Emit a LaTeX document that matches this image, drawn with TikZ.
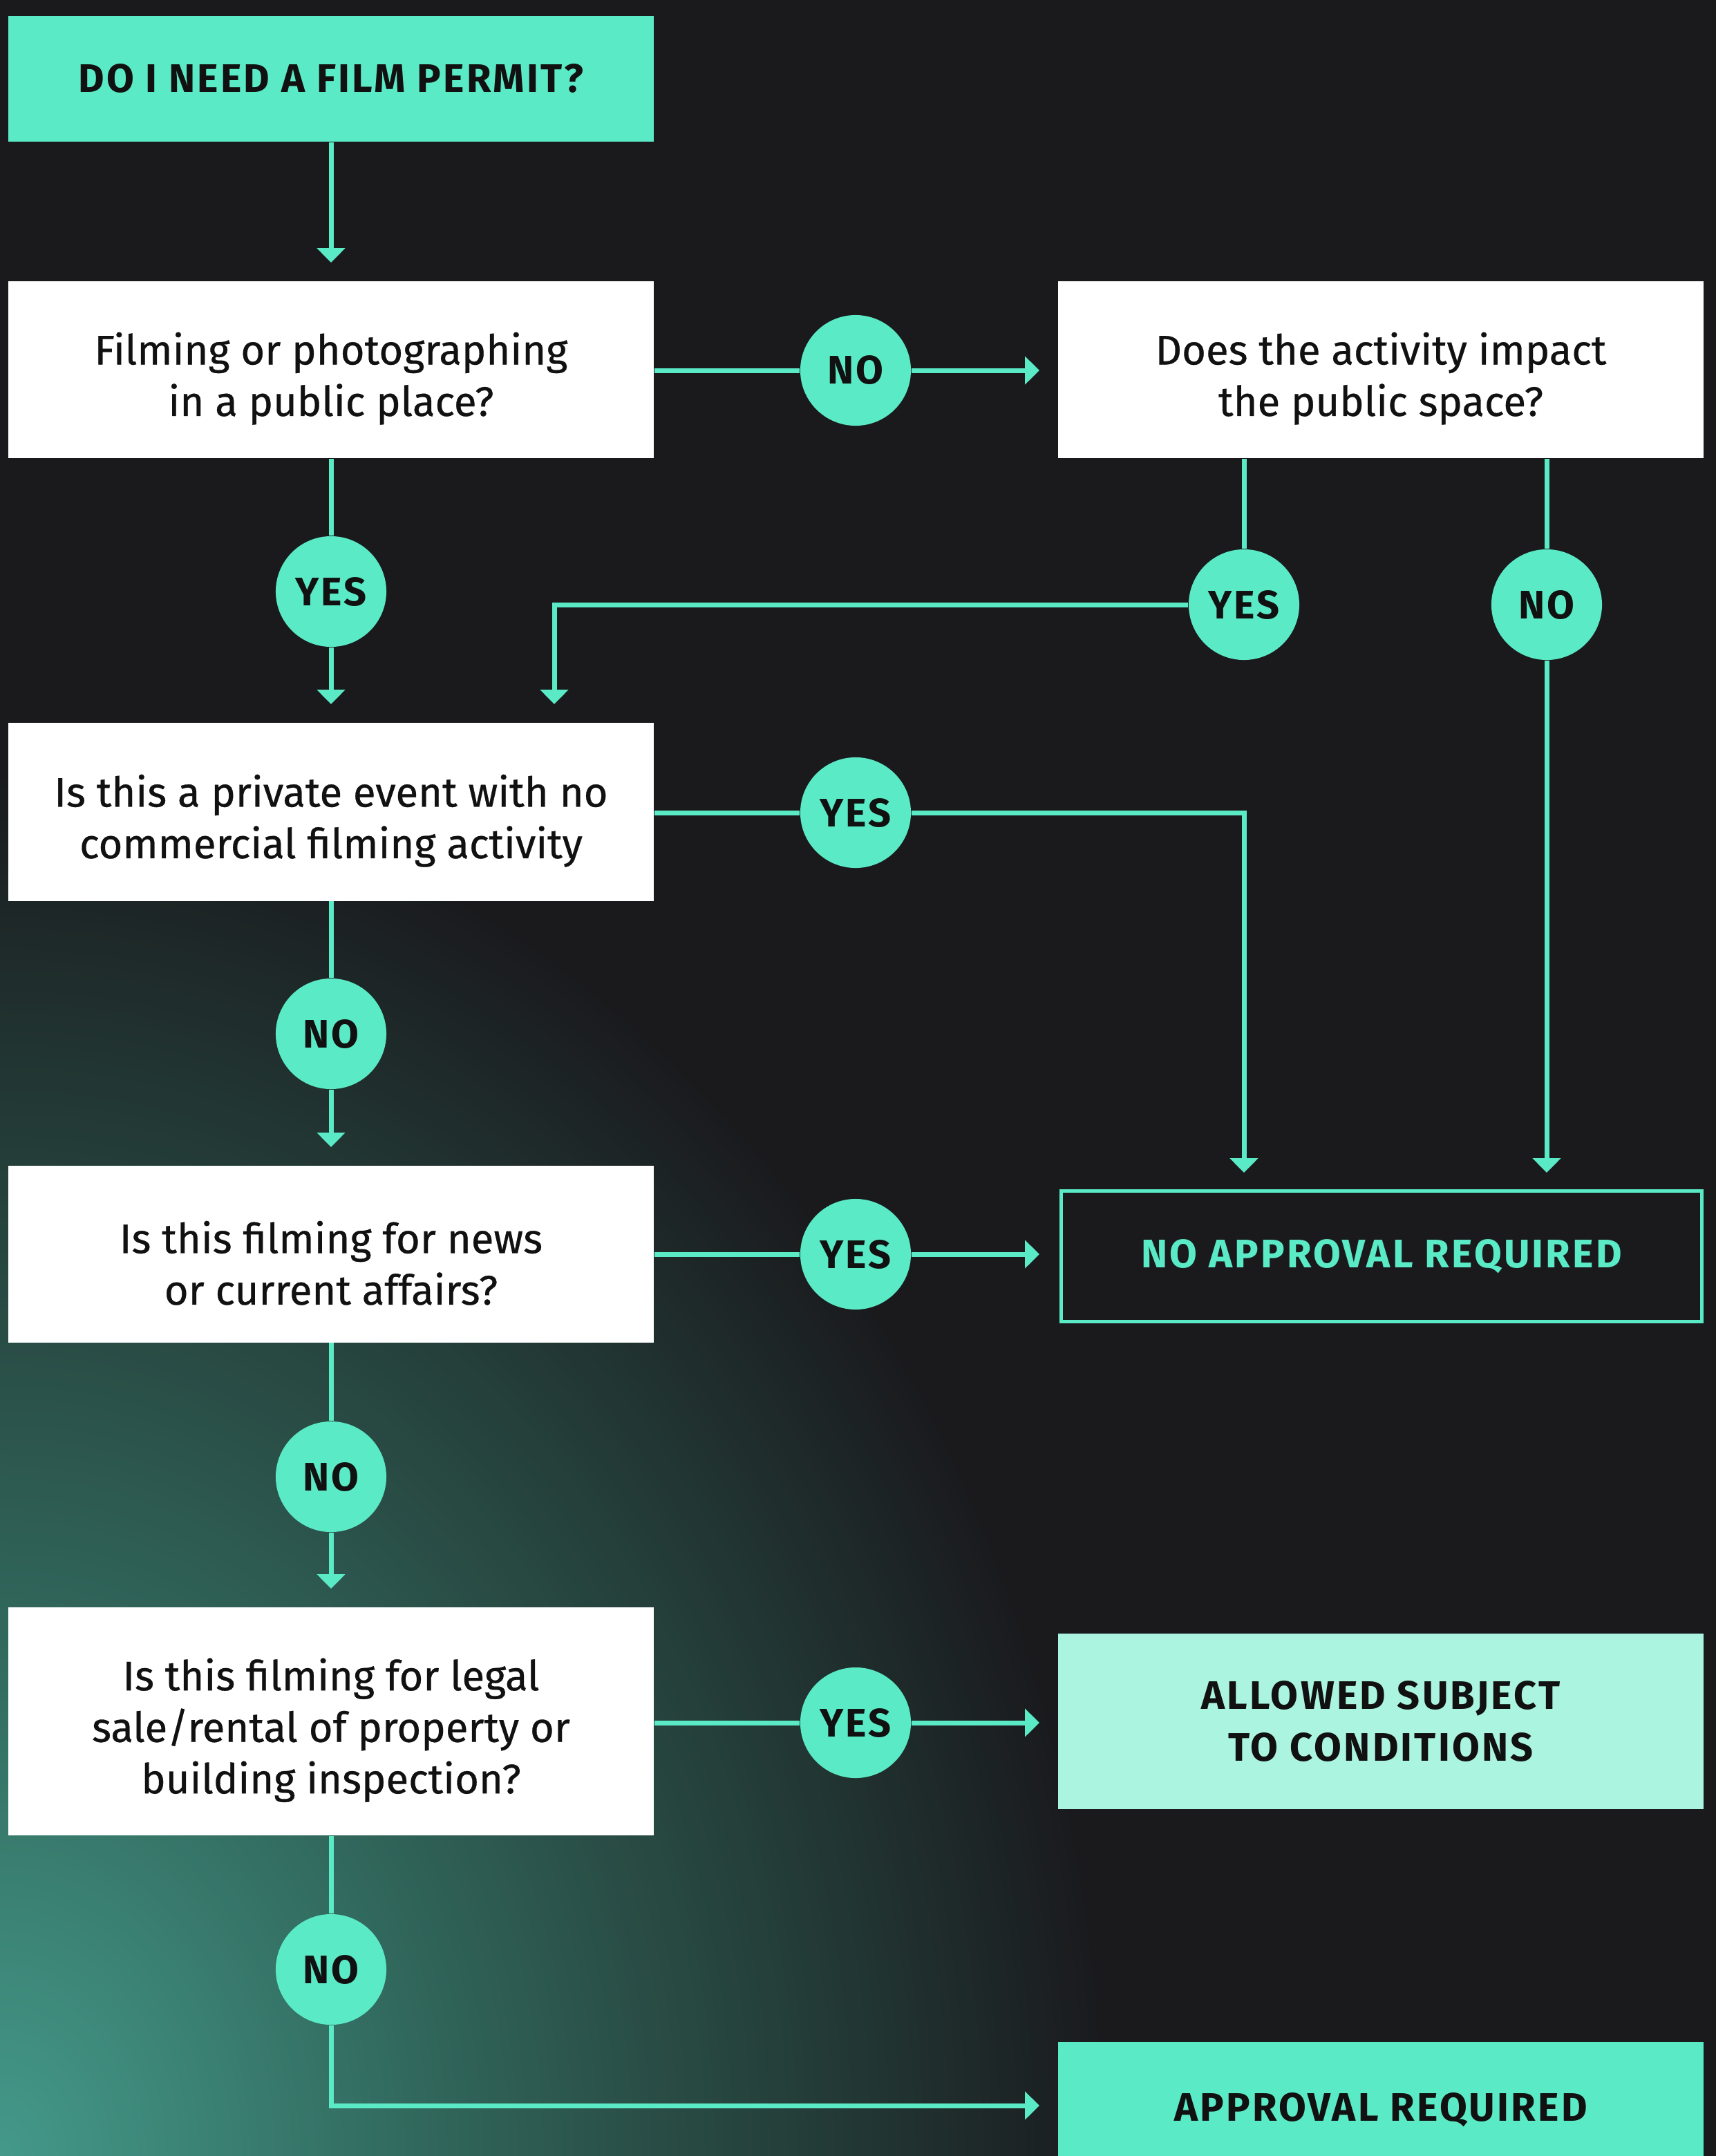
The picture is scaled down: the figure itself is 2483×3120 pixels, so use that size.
\documentclass[tikz,border=0pt]{standalone}
\usepackage{fontspec}
\setmainfont{Fira Sans}
\newfontfamily\labfamily{Fira Sans}[LetterSpace=5.5]
\newfontfamily\qmed{Fira Sans}[FakeBold=0.5]
\usetikzlibrary{arrows.meta}
\definecolor{bg}{HTML}{1A1A1D}
\definecolor{mint}{HTML}{5BEAC6}
\definecolor{lmint}{HTML}{ABF4E0}
\definecolor{ink}{HTML}{111111}
\definecolor{glowA}{HTML}{44998A}
\definecolor{glowB}{HTML}{3A8072}
\definecolor{glowC}{HTML}{30655A}
\definecolor{glowD}{HTML}{294C45}
\definecolor{glowE}{HTML}{213431}
\pgfdeclareradialshading{glow}{\pgfpoint{0bp}{0bp}}{color(0bp)=(glowA); color(5bp)=(glowB); color(10bp)=(glowC); color(15bp)=(glowD); color(20bp)=(glowE); color(25bp)=(bg); color(50bp)=(bg)}
\newcommand{\qfont}{\qmed\fontsize{17}{21.2}\selectfont}
\newcommand{\labfont}{\labfamily\fontsize{16.4}{21.2}\selectfont\bfseries}
\newcommand{\qstrut}{\rule{0pt}{0.72cm}}
\begin{document}
\begin{tikzpicture}[x=0.01cm,y=-0.01cm,
  qbox/.style={rectangle, fill=white, text=ink, minimum width=9.34cm, align=center, font=\qfont, inner sep=0pt},
  endbox/.style={rectangle, minimum width=9.34cm, align=center, font=\labfont, inner sep=0pt},
  lab/.style={circle, fill=mint, minimum size=1.6cm, inner sep=0pt, font=\labfont, text=ink},
  conn/.style={draw=mint, line width=0.07cm},
  arr/.style={conn, -{Triangle[width=0.4cm,length=0.21cm]}}]
\useasboundingbox (0,0) rectangle (2483,3120);
\fill[bg] (0,0) rectangle (2483,3120);
\begin{scope}
\clip (0,0) rectangle (2483,3120);
\shade[shading=glow] (-1600,1120) rectangle (1600,5120);
\end{scope}

% boxes
\node[endbox, fill=mint, text=ink, minimum height=1.82cm] (title) at (479,114) {DO I NEED A FILM PERMIT?};
\node[qbox, minimum height=2.56cm] (q1) at (479,535) {\qstrut Filming or photographing\\in a public place?};
\node[qbox, minimum height=2.56cm] (q2) at (1998,535) {\qstrut Does the activity impact\\the public space?};
\node[qbox, minimum height=2.57cm] (q3) at (479,1175) {\qstrut Is this a private event with no\\commercial filming activity};
\node[qbox, minimum height=2.55cm] (q4) at (479,1815) {\qstrut Is this filming for news\\or current affairs?};
\node[qbox, minimum height=3.30cm] (q5) at (479,2491) {\qstrut Is this filming for legal\\sale/rental of property or\\building inspection?};
\node[endbox, draw=mint, line width=0.05cm, text=mint, minimum width=9.27cm, minimum height=1.88cm] (noapp) at (1999,1818) {NO APPROVAL REQUIRED};
\node[endbox, fill=lmint, text=ink, minimum height=2.54cm] (allowed) at (1998,2491) {ALLOWED SUBJECT\\TO CONDITIONS};
\node[endbox, fill=mint, text=ink, minimum height=1.96cm] (approval) at (1998,3053) {APPROVAL REQUIRED};

% labels
\node[lab] (c1) at (1238,536) {NO};
\node[lab] (c2) at (479,856) {YES};
\node[lab] (c3) at (1800,875) {YES};
\node[lab] (c4) at (2238,875) {NO};
\node[lab] (c5) at (1238,1176) {YES};
\node[lab] (c6) at (479,1496) {NO};
\node[lab] (c7) at (1238,1815) {YES};
\node[lab] (c8) at (479,2137) {NO};
\node[lab] (c9) at (1238,2493) {YES};
\node[lab] (c10) at (479,2850) {NO};

% free ends
\coordinate (t0) at (479,380);
\coordinate (t1) at (1504,536);
\coordinate (t2) at (479,1019);
\coordinate (k3) at (802,875);
\coordinate (t3) at (802,1019);
\coordinate (t4) at (2238,1697);
\coordinate (k5) at (1800,1176);
\coordinate (t5) at (1800,1697);
\coordinate (t6) at (479,1660);
\coordinate (t7) at (1504,1815);
\coordinate (t8) at (479,2299);
\coordinate (t9) at (1504,2493);
\coordinate (k10) at (479,3047);
\coordinate (t10) at (1504,3047);

% connectors
\draw[arr] (title.south) -- (t0);
\draw[conn] (q1.east |- c1) -- (c1.west);
\draw[arr] (c1.east) -- (t1);
\draw[conn] (q1.south) -- (c2.north);
\draw[arr] (c2.south) -- (t2);
\draw[conn] (q2.south -| c3) -- (c3.north);
\draw[arr] (c3.west) -- (k3) -- (t3);
\draw[conn] (q2.south -| c4) -- (c4.north);
\draw[arr] (c4.south) -- (t4);
\draw[conn] (q3.east |- c5) -- (c5.west);
\draw[arr] (c5.east) -- (k5) -- (t5);
\draw[conn] (q3.south) -- (c6.north);
\draw[arr] (c6.south) -- (t6);
\draw[conn] (q4.east |- c7) -- (c7.west);
\draw[arr] (c7.east) -- (t7);
\draw[conn] (q4.south) -- (c8.north);
\draw[arr] (c8.south) -- (t8);
\draw[conn] (q5.east |- c9) -- (c9.west);
\draw[arr] (c9.east) -- (t9);
\draw[conn] (q5.south) -- (c10.north);
\draw[arr] (c10.south) -- (k10) -- (t10);
\end{tikzpicture}
\end{document}
